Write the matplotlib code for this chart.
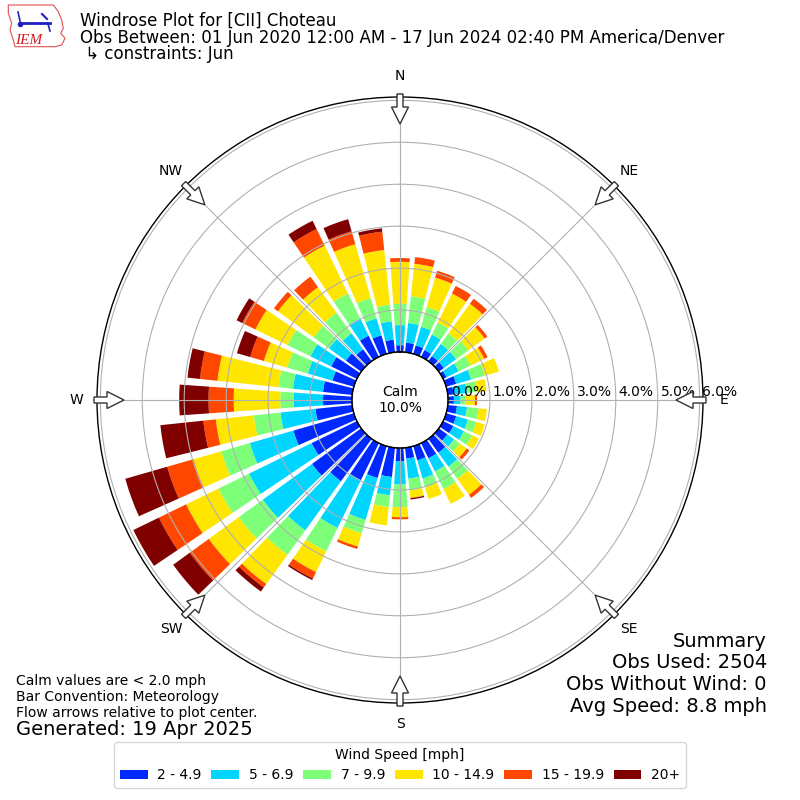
import numpy as np
import matplotlib
matplotlib.use("Agg")
import matplotlib.pyplot as plt
from matplotlib.patches import Polygon
from matplotlib.transforms import ScaledTranslation

# direction bins (deg, meteorological convention) and frequency [%] per speed bin
directions = [0, 10, 20, 30, 40, 50, 60, 70, 80, 90, 100, 110,
              120, 130, 140, 150, 160, 170, 180, 190, 200, 210, 220, 230,
              240, 250, 260, 270, 280, 290, 300, 310, 320, 330, 340, 350]

spd_2_5 = [0.16, 0.23, 0.21, 0.18, 0.15, 0.15, 0.09, 0.25, 0.14, 0.14, 0.22, 0.25,
           0.27, 0.25, 0.41, 0.40, 0.35, 0.26, 0.32, 0.70, 0.79, 0.98, 1.25, 1.45,
           1.20, 1.50, 0.88, 0.69, 0.70, 0.53, 0.68, 0.45, 0.35, 0.56, 0.46, 0.30]
spd_5_7 = [0.48, 0.47, 0.46, 0.41, 0.36, 0.36, 0.32, 0.37, 0.32, 0.16, 0.24, 0.29,
           0.28, 0.20, 0.41, 0.35, 0.45, 0.48, 0.55, 0.44, 1.04, 1.27, 1.45, 1.45,
           1.66, 1.08, 0.84, 0.70, 0.72, 0.61, 0.55, 0.50, 0.47, 0.46, 0.42, 0.44]
spd_7_10 = [0.51, 0.64, 0.49, 0.32, 0.31, 0.36, 0.32, 0.34, 0.24, 0.12, 0.28, 0.21,
            0.22, 0.17, 0.36, 0.47, 0.22, 0.28, 0.54, 0.28, 0.33, 0.62, 0.72, 0.71,
            0.81, 0.71, 0.64, 0.32, 0.35, 0.51, 0.61, 0.45, 0.61, 0.66, 0.50, 0.40]
spd_10_15 = [1.00, 0.78, 0.73, 0.77, 0.87, 0.48, 0.36, 0.35, 0.23, 0.22, 0.20, 0.21,
             0.18, 0.20, 0.47, 0.39, 0.29, 0.18, 0.24, 0.44, 0.33, 0.55, 0.86, 0.88,
             0.86, 0.69, 0.91, 1.11, 1.46, 0.58, 0.85, 1.05, 0.75, 1.27, 1.34, 1.31]
spd_15_20 = [0.09, 0.16, 0.17, 0.20, 0.15, 0.08, 0.09, 0.00, 0.00, 0.05, 0.00, 0.00,
             0.00, 0.08, 0.09, 0.00, 0.00, 0.01, 0.05, 0.00, 0.06, 0.17, 0.10, 0.56,
             0.72, 0.65, 0.30, 0.60, 0.42, 0.34, 0.35, 0.12, 0.31, 0.44, 0.32, 0.44]
spd_20up = [0.00, 0.00, 0.00, 0.00, 0.00, 0.00, 0.00, 0.00, 0.00, 0.00, 0.00, 0.00,
            0.00, 0.00, 0.00, 0.00, 0.00, 0.03, 0.00, 0.00, 0.00, 0.04, 0.12, 0.49,
            0.68, 1.04, 1.03, 0.70, 0.30, 0.33, 0.15, 0.00, 0.00, 0.22, 0.30, 0.08]

bin_labels = ["2 - 4.9", "5 - 6.9", "7 - 9.9", "10 - 14.9", "15 - 19.9", "20+"]
ring_ticks = [0, 1, 2, 3, 4, 5, 6]
compass_names = ["N", "NE", "E", "SE", "S", "SW", "W", "NW"]
compass_deg = [0, 45, 90, 135, 180, 225, 270, 315]
calm_pct = 10.0

W = H = 800
fig = plt.figure(figsize=(8, 8), dpi=100)

# polar axes: center at (400,400) px, outer radius 303 px
ax = fig.add_axes([97 / W, 97 / H, 606 / W, 606 / H], projection="polar")
ax.set_theta_zero_location("N")
ax.set_theta_direction(-1)
ax.set_ylim(0, 6.08)
ax.set_rorigin(-1.146)

cmap = plt.get_cmap("jet")
colors = [cmap((i + 1) / 6) for i in range(6)]
series = [spd_2_5, spd_5_7, spd_7_10, spd_10_15, spd_15_20, spd_20up]

theta = np.deg2rad(directions)
width = np.deg2rad(10) * 0.8
bottom = np.zeros(len(directions))
for vals, col, lab in zip(series, colors, bin_labels):
    ax.bar(theta, vals, width=width, bottom=bottom, color=col, label=lab,
           linewidth=0, zorder=1)
    bottom = bottom + np.array(vals)

ax.set_yticks(ring_ticks[1:])
ax.set_yticklabels([])
ax.set_xticks(np.deg2rad(compass_deg))
ax.set_xticklabels([])
ax.grid(True, color="#b0b0b0", lw=0.8)
ax.set_axisbelow(False)
ax.spines["polar"].set_color("black")
ax.spines["polar"].set_linewidth(1.0)

# calm circle
circ = np.linspace(0, 2 * np.pi, 361)
ax.plot(circ, np.zeros_like(circ), color="black", lw=1.0, clip_on=False, zorder=4)
ax.text(0.5, 0.5, "Calm\n%.1f%%" % calm_pct, transform=ax.transAxes,
        ha="center", va="center", fontsize=10, zorder=6)

# ring labels along east axis
shift = ax.transData + ScaledTranslation(2 / 72, 1 / 72, fig.dpi_scale_trans)
for r in ring_ticks:
    ax.text(np.pi / 2, r, "%.1f%%" % r, transform=shift, ha="left", va="bottom",
            fontsize=10, zorder=6)

# compass labels and flow arrows
cx, cy = 400, 400
for name, deg in zip(compass_names, compass_deg):
    a = np.deg2rad(deg)
    u = np.array([np.sin(a), np.cos(a)])
    p = np.array([-u[1], u[0]])
    c = np.array([cx, cy])
    fig.text((cx + 324 * u[0]) / W, (cy + 324 * u[1]) / H, name,
             ha="center", va="center", fontsize=10)
    pts = np.array([c + u * 306 + p * 3, c + u * 293 + p * 3, c + u * 293 + p * 8.5,
                    c + u * 276, c + u * 293 - p * 8.5, c + u * 293 - p * 3,
                    c + u * 306 - p * 3])
    pts[:, 0] /= W
    pts[:, 1] /= H
    fig.add_artist(Polygon(pts, closed=True, transform=fig.transFigure,
                           facecolor="white", edgecolor="#333333", lw=1.0, zorder=5))

# titles
fig.text(80 / W, 1 - 26 / H, "Windrose Plot for [CII] Choteau", fontsize=12, va="baseline")
fig.text(80 / W, 1 - 42.7 / H,
         "Obs Between: 01 Jun 2020 12:00 AM - 17 Jun 2024 02:40 PM America/Denver",
         fontsize=12, va="baseline")
fig.text(80 / W, 1 - 59.4 / H, " \u21b3 constraints: Jun", fontsize=12, va="baseline")

# footnotes
fig.text(16 / W, 1 - 685 / H, "Calm values are < 2.0 mph", fontsize=10, va="baseline")
fig.text(16 / W, 1 - 701 / H, "Bar Convention: Meteorology", fontsize=10, va="baseline")
fig.text(16 / W, 1 - 716.7 / H, "Flow arrows relative to plot center.", fontsize=10,
         va="baseline")
fig.text(16 / W, 1 - 735 / H, "Generated: 19 Apr 2025", fontsize=14, va="baseline")

summary = ["Summary", "Obs Used: 2504", "Obs Without Wind: 0", "Avg Speed: 8.8 mph"]
for i, line in enumerate(summary):
    fig.text(767 / W, 1 - (646.7 + 21.7 * i) / H, line, fontsize=14,
             ha="right", va="baseline")

handles, labels = ax.get_legend_handles_labels()
fig.legend(handles, labels, loc="lower center", bbox_to_anchor=(0.5, 12 / H), ncol=6,
           title="Wind Speed [mph]", fontsize=10, title_fontsize=10, borderaxespad=0,
           handletextpad=0.7, columnspacing=0.7)

# small IEM logo
lax = fig.add_axes([0, 1 - 52 / H, 70 / W, 52 / H])
lax.set_xlim(0, 70)
lax.set_ylim(52, 0)
lax.axis("off")
outline = [(8.3, 5), (53.3, 5), (58.3, 11.7), (61.7, 20), (63.3, 28.3), (60.7, 33.3),
           (65, 38.3), (61.7, 45), (55, 46.7), (15, 46.7), (13.3, 40), (10, 30),
           (11.7, 23.3), (8.3, 13.3)]
lax.add_patch(Polygon(outline, closed=True, facecolor="none", edgecolor="#e05050", lw=0.8))
lax.plot([18, 20], [12, 21], color="#2020c0", lw=1.2)
lax.plot([20, 50], [23, 23], color="#2020c0", lw=2)
lax.plot([42, 47], [14, 19], color="#2020c0", lw=1.5)
lax.plot([48, 50], [24, 31], color="#2020c0", lw=1.2)
lax.plot([20], [24], "o", color="#2020c0", ms=3)
lax.text(15.5, 44.5, "IEM", color="#d02020", fontsize=11, family="Liberation Serif",
         style="italic")

fig.savefig("out.png", dpi=100)
